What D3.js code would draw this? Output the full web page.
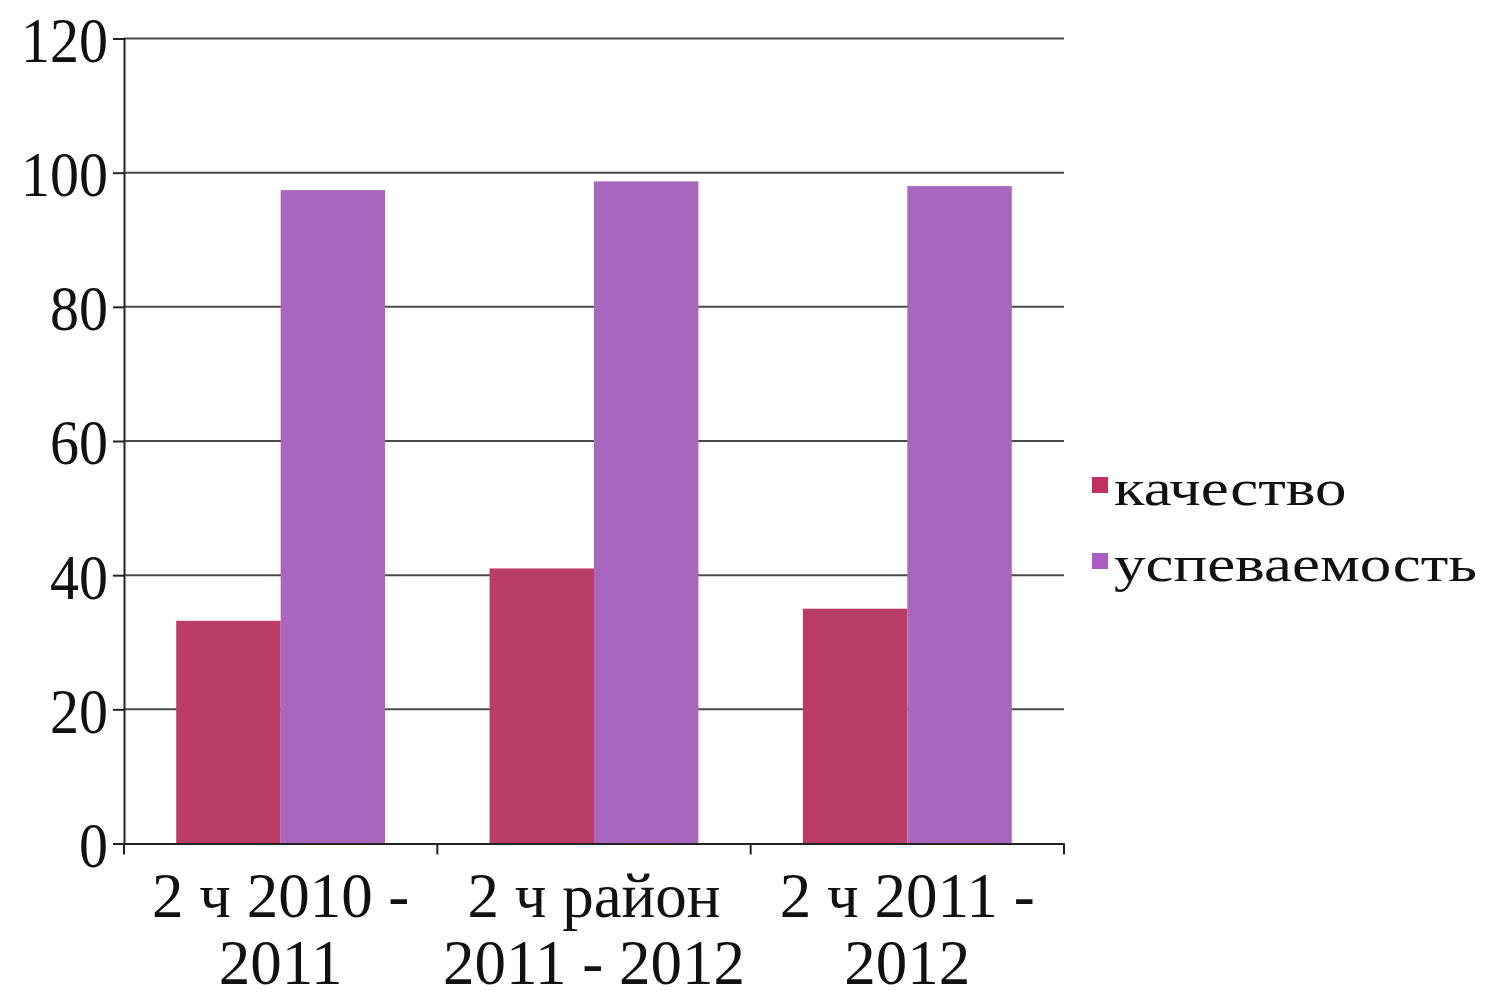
<!DOCTYPE html>
<html><head><meta charset="utf-8">
<script src="https://cdn.jsdelivr.net/npm/d3@7"></script>
<style>body{margin:0;background:#fff}svg{display:block}</style>
</head><body>
<script>
const categories = [["2 ч 2010 -","2011"],["2 ч район","2011 - 2012"],["2 ч 2011 -","2012"]];
const seriesNames = ["качество","успеваемость"];
const kachestvo = [33.2, 41, 35];
const uspevaemost = [97.4, 98.7, 98];
const yTicks = [0,20,40,60,80,100,120];
const colors = ["#B93D66","#A966BE"];
const legendColors = ["#C2305F","#AC5CC6"];

(function(){
const W=1487,H=998;
const svg=d3.select("body").append("svg").attr("width",W).attr("height",H);
const mLeft=124,mRight=1064,mTop=38.5,mBottom=843.5;
const font="'Liberation Serif','Times New Roman',serif";
const fs=58, sy=1.1;

const x=d3.scaleBand().domain(d3.range(categories.length)).range([mLeft,mRight]).paddingInner(0).paddingOuter(0);
const y=d3.scaleLinear().domain([0,120]).range([mBottom,mTop]);
const inner=d3.scaleBand().domain([0,1]).range([0,x.bandwidth()]).paddingOuter(0.5).paddingInner(0);

svg.append("g").selectAll("line").data(yTicks.filter(d=>d>0)).join("line")
  .attr("x1",mLeft).attr("x2",mRight).attr("y1",d=>y(d)).attr("y2",d=>y(d))
  .attr("stroke","#4a4a4a").attr("stroke-width",2);

const data=[kachestvo,uspevaemost];
data.forEach((vals,si)=>{
  svg.append("g").selectAll("rect").data(vals).join("rect")
    .attr("x",(d,i)=>x(i)+inner(si)).attr("width",inner.bandwidth())
    .attr("y",d=>y(d)).attr("height",d=>mBottom-y(d))
    .attr("fill",colors[si]);
});

const ya=svg.append("g").attr("transform",`translate(${mLeft},0)`)
  .call(d3.axisLeft(y).tickValues(yTicks).tickSize(11).tickPadding(5).tickFormat(d3.format("d")));
ya.select(".domain").attr("stroke","#222").attr("stroke-width",2);
ya.selectAll(".tick line").attr("stroke","#222").attr("stroke-width",2);
ya.selectAll(".tick text").attr("font-family",font).attr("font-size",fs).attr("fill","#111")
  .attr("transform",`scale(1,${sy})`).attr("dy","0.36em");

const xa=svg.append("g").attr("transform",`translate(0,${mBottom})`)
  .call(d3.axisBottom(x).tickSize(0).tickFormat(""));
xa.select(".domain").attr("stroke","#222").attr("stroke-width",2);
const bounds=[0,1,2].map(i=>x(i)).concat([mRight]);
xa.selectAll(".bt").data(bounds).join("line").attr("class","bt")
  .attr("x1",d=>d).attr("x2",d=>d).attr("y1",0).attr("y2",11)
  .attr("stroke","#222").attr("stroke-width",2);

const lab=svg.append("g");
categories.forEach((lines,i)=>{
  lines.forEach((t,j)=>{
    lab.append("text").attr("text-anchor","middle")
      .attr("transform",`translate(${x(i)+x.bandwidth()/2},${917+j*67}) scale(1,1.01)`)
      .attr("font-family",font).attr("font-size",63).attr("fill","#111").text(t);
  });
});

const lg=svg.append("g");
seriesNames.forEach((n,i)=>{
  const yy=505+i*76;
  lg.append("rect").attr("x",1092).attr("y",yy-28).attr("width",16).attr("height",16).attr("fill",legendColors[i]);
  lg.append("text").attr("transform",`translate(1114,${yy}) scale(1,0.8)`)
    .attr("font-family",font).attr("font-size",63).attr("fill","#111").text(n);
});
})();
</script>
</body></html>
